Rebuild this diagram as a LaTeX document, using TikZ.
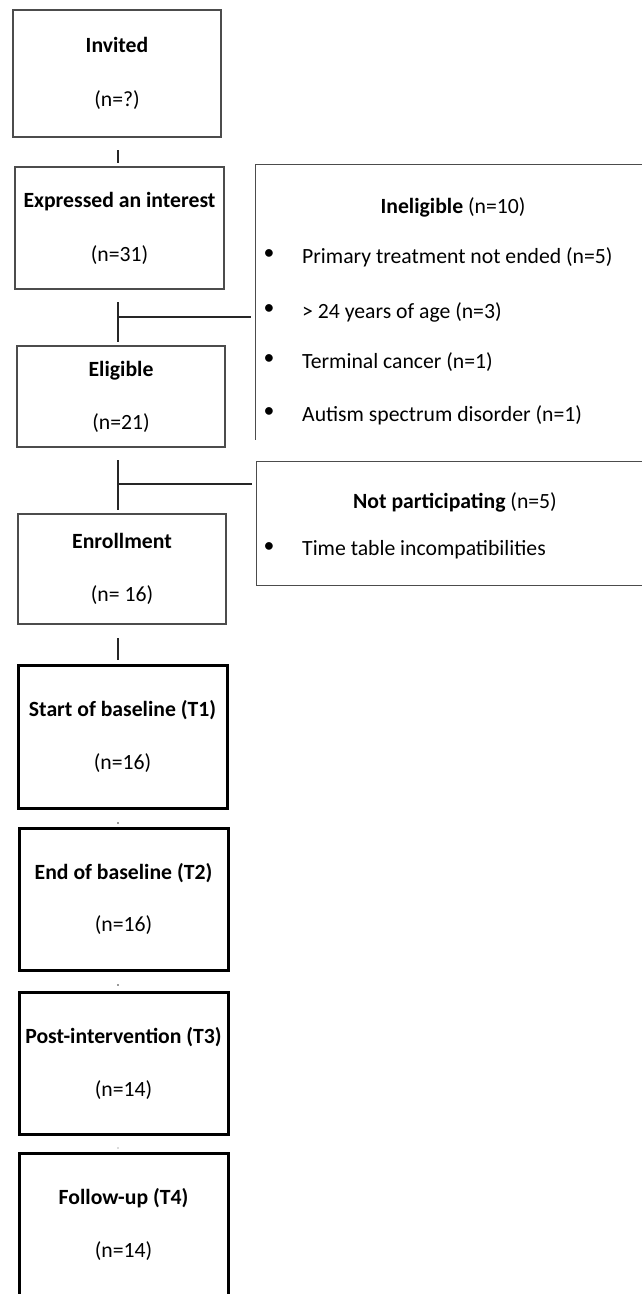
\documentclass[tikz,border=0pt]{standalone}
\usepackage{fontspec}
\setmainfont{Carlito}
\begin{document}
\begin{tikzpicture}[x=1pt,y=-1pt,
  fnt/.style={font=\fontsize{21.7}{26}\selectfont},
  thinbox/.style={fnt, draw=black!70, line width=1.2pt, minimum width=208pt, align=center, inner sep=0pt},
  thickbox/.style={thinbox, draw=black, line width=3pt},
  conn/.style={draw=black!85, line width=1.5pt},
  txt/.style={fnt, inner sep=0pt},
  sidebox/.style={draw=none, inner sep=0pt},
  sideline/.style={draw=black!70, line width=1.2pt}]
\useasboundingbox (0,0) rectangle (642,1294);
\clip (0,0) rectangle (642,1294);
\fill[white] (0,0) rectangle (642,1294);

% main column
\node[thinbox, minimum height=127pt, minimum width=208pt] (inv) at (117,73.5) {\textbf{Invited}\\[28pt](n=?)};
\node[thinbox, minimum height=122pt, minimum width=209pt] (exp) at (119.5,228) {\textbf{Expressed an interest}\\[28pt](n=31)};
\node[thinbox, minimum height=101pt] (eli) at (121,396.5) {\textbf{Eligible}\\[27pt](n=21)};
\node[thinbox, minimum height=110pt] (enr) at (122,569) {\textbf{Enrollment}\\[27pt](n= 16)};
\node[thickbox, minimum height=143pt, minimum width=209pt] (st) at (122.5,736.5) {\textbf{Start of baseline (T1)}\\[27pt](n=16)};
\node[thickbox, minimum height=142pt, minimum width=209pt] (eb) at (123.5,899) {\textbf{End of baseline (T2)}\\[26pt](n=16)};
\node[thickbox, minimum height=142pt, minimum width=209pt] (post) at (123.5,1063) {\textbf{Post-intervention (T3)}\\[27pt](n=14)};
\node[thickbox, minimum height=143pt, minimum width=209pt] (fol) at (123.5,1224.5) {\textbf{Follow-up (T4)}\\[27pt](n=14)};

% side boxes (open outlines)
\node[sidebox, minimum width=404pt, minimum height=275pt] (inel) at (458,302.5) {};
\draw[sideline] (inel.north east) -- (inel.north west) -- (inel.south west);
\node[sidebox, minimum width=404pt, minimum height=123pt] (np) at (459,523.5) {};
\draw[sideline] (np.north east) -- (np.north west) -- (np.south west) -- (np.south east);

% connectors
\coordinate (t1a) at (118,150);
\coordinate (t1b) at (118,163);
\draw[conn] (t1a) -- (t1b);
\coordinate (j1a) at (118,302);
\coordinate (j1b) at (118,342);
\coordinate (j1) at (118,317);
\coordinate (j1e) at (251,317);
\draw[conn] (j1a) -- (j1b);
\draw[conn] (j1) -- (j1e);
\coordinate (j2a) at (118,460);
\coordinate (j2b) at (118,510);
\coordinate (j2) at (118,484);
\coordinate (j2e) at (252,484);
\draw[conn] (j2a) -- (j2b);
\draw[conn] (j2) -- (j2e);
\coordinate (t2a) at (118,638);
\coordinate (t2b) at (118,660);
\draw[conn] (t2a) -- (t2b);
\coordinate (d1) at (118,823);
\coordinate (d2) at (118,985);
\coordinate (d3) at (118,1148);
\fill[black!80] (d1) circle (0.9);
\fill[black!80] (d2) circle (0.9);
\fill[black!60] (d3) circle (0.7);

% ineligible text
\node[txt] (inelt) at (453,207) {\textbf{Ineligible} (n=10)};
\node[txt] (b1) at (269,255) {\textbullet};
\node[txt, anchor=west] (i1) at (302,257) {Primary treatment not ended (n=5)};
\node[txt] (b2) at (269,310) {\textbullet};
\node[txt, anchor=west] (i2) at (302,312) {> 24 years of age (n=3)};
\node[txt] (b3) at (269,360) {\textbullet};
\node[txt, anchor=west] (i3) at (302,362) {Terminal cancer (n=1)};
\node[txt] (b4) at (269,413) {\textbullet};
\node[txt, anchor=west] (i4) at (302,415) {Autism spectrum disorder (n=1)};

% not participating text
\node[txt] (npt) at (455,502) {\textbf{Not participating} (n=5)};
\node[txt] (b5) at (269,548) {\textbullet};
\node[txt, anchor=west] (n1) at (302,550) {Time table incompatibilities};
\end{tikzpicture}
\end{document}
